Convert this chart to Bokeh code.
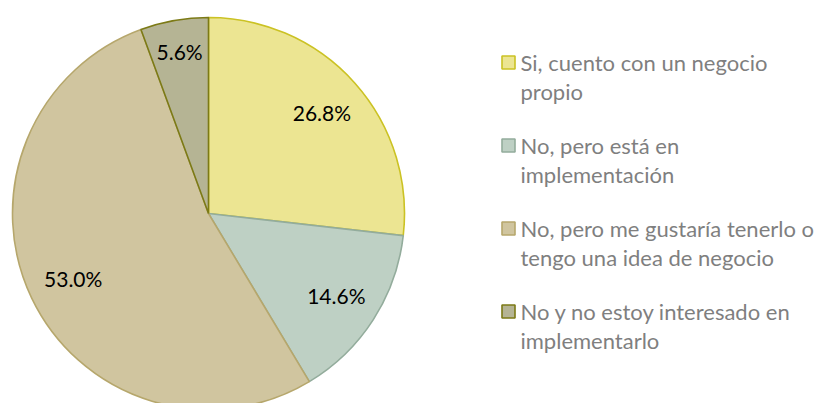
import math
from bokeh.plotting import figure
from bokeh.models import Range1d, ColumnDataSource
from bokeh.core.properties import value
from bokeh.embed import file_html
from bokeh.resources import INLINE

# ---- data ----
categories = [
    "Si, cuento con un negocio propio",
    "No, pero está en implementación",
    "No, pero me gustaría tenerlo o tengo una idea de negocio",
    "No y no estoy interesado en implementarlo",
]
legend_lines = [
    ["Si, cuento con un negocio", "propio"],
    ["No, pero está en", "implementación"],
    ["No, pero me gustaría tenerlo o", "tengo una idea de negocio"],
    ["No y no estoy interesado en", "implementarlo"],
]
percentages = [26.8, 14.6, 53.0, 5.6]
labels = ["26.8%", "14.6%", "53.0%", "5.6%"]

fills = ["#ECE592", "#BED0C4", "#D0C59F", "#B5B494"]
borders = ["#CBC224", "#93AC9C", "#B6A76C", "#7C7A16"]

W, H = 821, 403
p = figure(width=W, height=H, output_backend="svg", toolbar_location=None,
           x_range=Range1d(0, W), y_range=Range1d(0, H), min_border=0)
p.axis.visible = False
p.grid.visible = False
p.outline_line_color = None
p.background_fill_color = "white"

cx, cy, R = 208, 190, 196

total = sum(percentages)
starts, ends, lx, ly = [], [], [], []
acc = 0.0
label_r = [152, 152, 150, 165]
for i, v in enumerate(percentages):
    a0 = math.pi / 2 - 2 * math.pi * acc / total
    a1 = math.pi / 2 - 2 * math.pi * (acc + v) / total
    starts.append(a1)
    ends.append(a0)
    mid = (a0 + a1) / 2
    lx.append(cx + label_r[i] * math.cos(mid))
    ly.append(cy + label_r[i] * math.sin(mid))
    acc += v

src = ColumnDataSource(dict(start=starts, end=ends, fill=fills, line=borders,
                            lx=lx, ly=ly, label=labels))
p.wedge(x=cx, y=cy, radius=R, start_angle="start", end_angle="end",
        fill_color="fill", line_color="line", line_width=1.6, source=src)

p.text(x="lx", y="ly", text="label", source=src, text_align="center",
       text_baseline="middle", text_font=value("Lato"),
       text_font_size="21px", text_color="#000000")

# ---- legend ----
sq_x = 508
tx = 520
ys = [341, 258, 175, 92]
line_gap = 29
p.scatter(x=[sq_x] * 4, y=ys, marker="square", size=13, fill_color=fills,
          line_color=borders, line_width=1.6)
tx_list, ty_list, tt_list = [], [], []
for i, lines in enumerate(legend_lines):
    for j, t in enumerate(lines):
        tx_list.append(tx)
        ty_list.append(ys[i] - j * line_gap)
        tt_list.append(t)
p.text(x=tx_list, y=ty_list, text=tt_list, text_align="left",
       text_baseline="middle", text_font=value("Lato"),
       text_font_size="22px", text_color="#7F7F7F")

open("out.html", "w").write(file_html(p, INLINE))
